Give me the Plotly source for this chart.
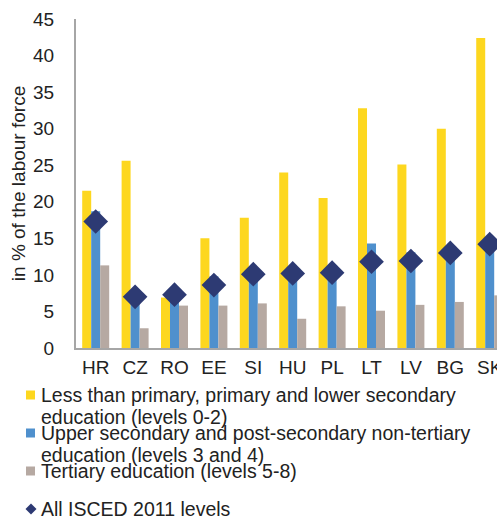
import plotly.graph_objects as go

countries = ["HR", "CZ", "RO", "EE", "SI", "HU", "PL", "LT", "LV", "BG", "SK"]
low_edu = [21.5, 25.6, 6.9, 15.0, 17.8, 24.0, 20.5, 32.8, 25.1, 30.0, 42.4]
mid_edu = [18.7, 7.0, 7.2, 9.8, 10.0, 10.3, 11.3, 14.3, 13.1, 13.1, 14.5]
high_edu = [11.3, 2.7, 5.8, 5.8, 6.1, 4.0, 5.7, 5.1, 5.9, 6.3, 7.2]
all_levels = [17.3, 7.0, 7.3, 8.6, 10.1, 10.2, 10.3, 11.8, 11.9, 13.0, 14.2]

series_names = [
    ["Less than primary, primary and lower secondary", "education (levels 0-2)"],
    ["Upper secondary and post-secondary non-tertiary", "education (levels 3 and 4)"],
    ["Tertiary education (levels 5-8)"],
    ["All ISCED 2011 levels"],
]
colors = ["#FDD71F", "#4F90CD", "#B6A9A2", "#2D3A73"]

FONT = "Liberation Sans, Arial, sans-serif"
TXT = "#222222"
W, H = 497, 520
ML, MR, MT, MB = 76, 0, 19, 172
PW, PH = W - ML - MR, H - MT - MB


def px_x(x):
    return (x - ML) / PW


def px_y(y):
    return (H - MB - y) / PH


fig = go.Figure()
for vals, names, col in zip([low_edu, mid_edu, high_edu], series_names[:3], colors[:3]):
    fig.add_trace(go.Bar(x=countries, y=vals, marker_color=col, marker_line_width=0,
                         name=" ".join(names)))
fig.add_trace(go.Scatter(
    x=countries, y=all_levels, mode="markers",
    marker=dict(symbol="diamond", size=19, color=colors[3], line_width=0),
    name=" ".join(series_names[3])))

# Legend drawn below the plot: colour keys plus label lines
key_rows = [395, 433, 471, 509]
line_gap = 22
annotations = []
shapes = []
for row_y, names, col, is_marker in zip(key_rows, series_names, colors,
                                        [False, False, False, True]):
    if is_marker:
        cx, cy, r = 31, row_y, 5.5
        shapes.append(dict(
            type="path", xref="paper", yref="paper",
            path=f"M {px_x(cx - r)} {px_y(cy)} L {px_x(cx)} {px_y(cy - r)} "
                 f"L {px_x(cx + r)} {px_y(cy)} L {px_x(cx)} {px_y(cy + r)} Z",
            fillcolor=col, line_width=0))
    else:
        shapes.append(dict(
            type="rect", xref="paper", yref="paper",
            x0=px_x(26), x1=px_x(35), y0=px_y(row_y - 4.5), y1=px_y(row_y + 4.5),
            fillcolor=col, line_width=0))
    for i, line in enumerate(names):
        annotations.append(dict(
            text=line, xref="paper", yref="paper", x=px_x(39), y=px_y(row_y + i * line_gap),
            xanchor="left", yanchor="middle", showarrow=False,
            font=dict(family=FONT, size=19.5, color=TXT)))

fig.update_layout(
    width=W, height=H,
    margin=dict(l=ML, r=MR, t=MT, b=MB, autoexpand=False),
    plot_bgcolor="white", paper_bgcolor="white",
    barmode="group", bargap=0.315, bargroupgap=0,
    showlegend=False,
    font=dict(family=FONT, size=19, color=TXT),
    xaxis=dict(range=[-0.5, 10.185], showline=True, linecolor="#A6A6A6", linewidth=2,
               showgrid=False, ticks="", tickfont=dict(size=19, color=TXT),
               ticklabelstandoff=1),
    yaxis=dict(range=[0, 45], dtick=5, showline=True, linecolor="#A6A6A6", linewidth=2,
               showgrid=False, zeroline=False, ticks="", tickfont=dict(size=19, color=TXT),
               ticklabelstandoff=16,
               title=dict(text="in % of the labour force", font=dict(size=19, color=TXT),
                          standoff=2)),
    annotations=annotations,
    shapes=shapes,
)

fig.write_html("out.html")
